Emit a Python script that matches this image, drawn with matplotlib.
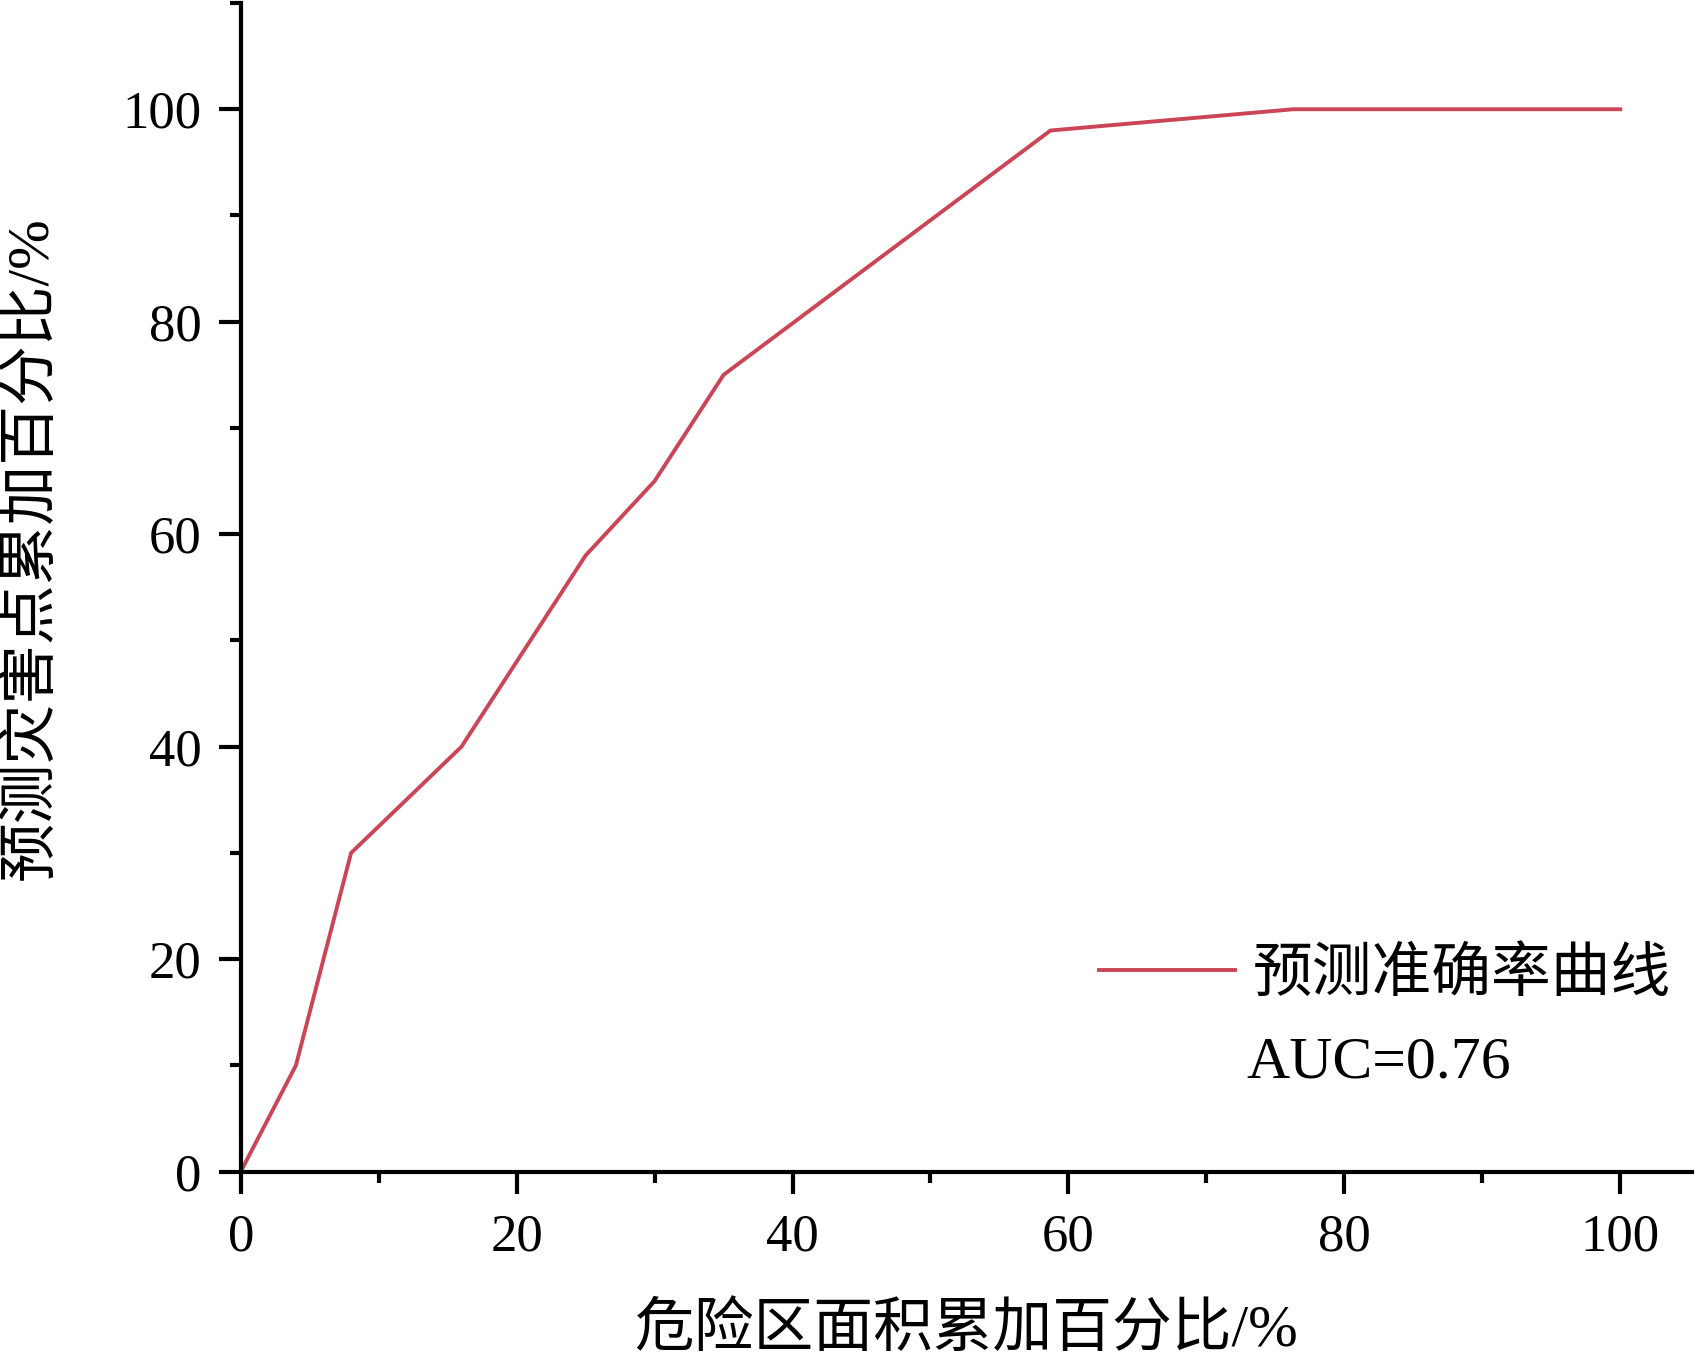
import matplotlib
matplotlib.use("Agg")
import matplotlib.pyplot as plt
from matplotlib.ticker import MultipleLocator
from matplotlib.lines import Line2D

plt.rcParams['font.family'] = ['Liberation Serif', 'Noto Sans CJK SC']

# cumulative area % vs cumulative hazard points %
area_pct = [0, 4, 8, 16, 25, 30, 35, 58.7, 76.3, 100]
point_pct = [0, 10, 30, 40, 58, 65, 75, 98, 100, 100]
legend_label = "预测准确率曲线"
auc_text = "AUC=0.76"
x_label = "危险区面积累加百分比/%"
y_label = "预测灾害点累加百分比/%"

W, H = 1695, 1358
fig = plt.figure(figsize=(W / 100, H / 100), dpi=100)
ax = fig.add_axes([240.7 / W, 1 - 1171.7 / H, (1692 - 240.7) / W, (1171.7 - 3) / H])

red = '#CB4556'
ax.plot(area_pct, point_pct, color=red, lw=2.8, solid_joinstyle='miter')

ax.set_xlim(0, 105.2)
ax.set_ylim(0, 110)
ax.xaxis.set_major_locator(MultipleLocator(20))
ax.xaxis.set_minor_locator(MultipleLocator(10))
ax.yaxis.set_major_locator(MultipleLocator(20))
ax.yaxis.set_minor_locator(MultipleLocator(10))

for s in ['top', 'right']:
    ax.spines[s].set_visible(False)
for s in ['left', 'bottom']:
    ax.spines[s].set_linewidth(3)

ax.tick_params(which='major', direction='out', length=16, width=3, labelsize=38)
ax.tick_params(axis='x', which='major', pad=14)
ax.tick_params(axis='y', which='major', pad=12)
ax.tick_params(which='minor', direction='out', length=8, width=3)

fig.text(966 / W, 12 / H, x_label, ha='center', va='baseline', fontsize=43)
fig.text(32 / W, 1 - 548 / H, y_label, ha='center', va='center', rotation=90, fontsize=43)

handle = Line2D([], [], color=red, lw=2.8)
ax.legend([handle], [legend_label], loc='center left',
          bbox_to_anchor=(1099 / W, 1 - 976 / H), bbox_transform=fig.transFigure,
          frameon=False, fontsize=43, borderpad=0, borderaxespad=0,
          handlelength=2.28, handletextpad=0.3)
fig.text(1246 / W, 1 - 1078 / H, auc_text, ha='left', va='baseline', fontsize=43)

fig.savefig("out.png", dpi=100)
